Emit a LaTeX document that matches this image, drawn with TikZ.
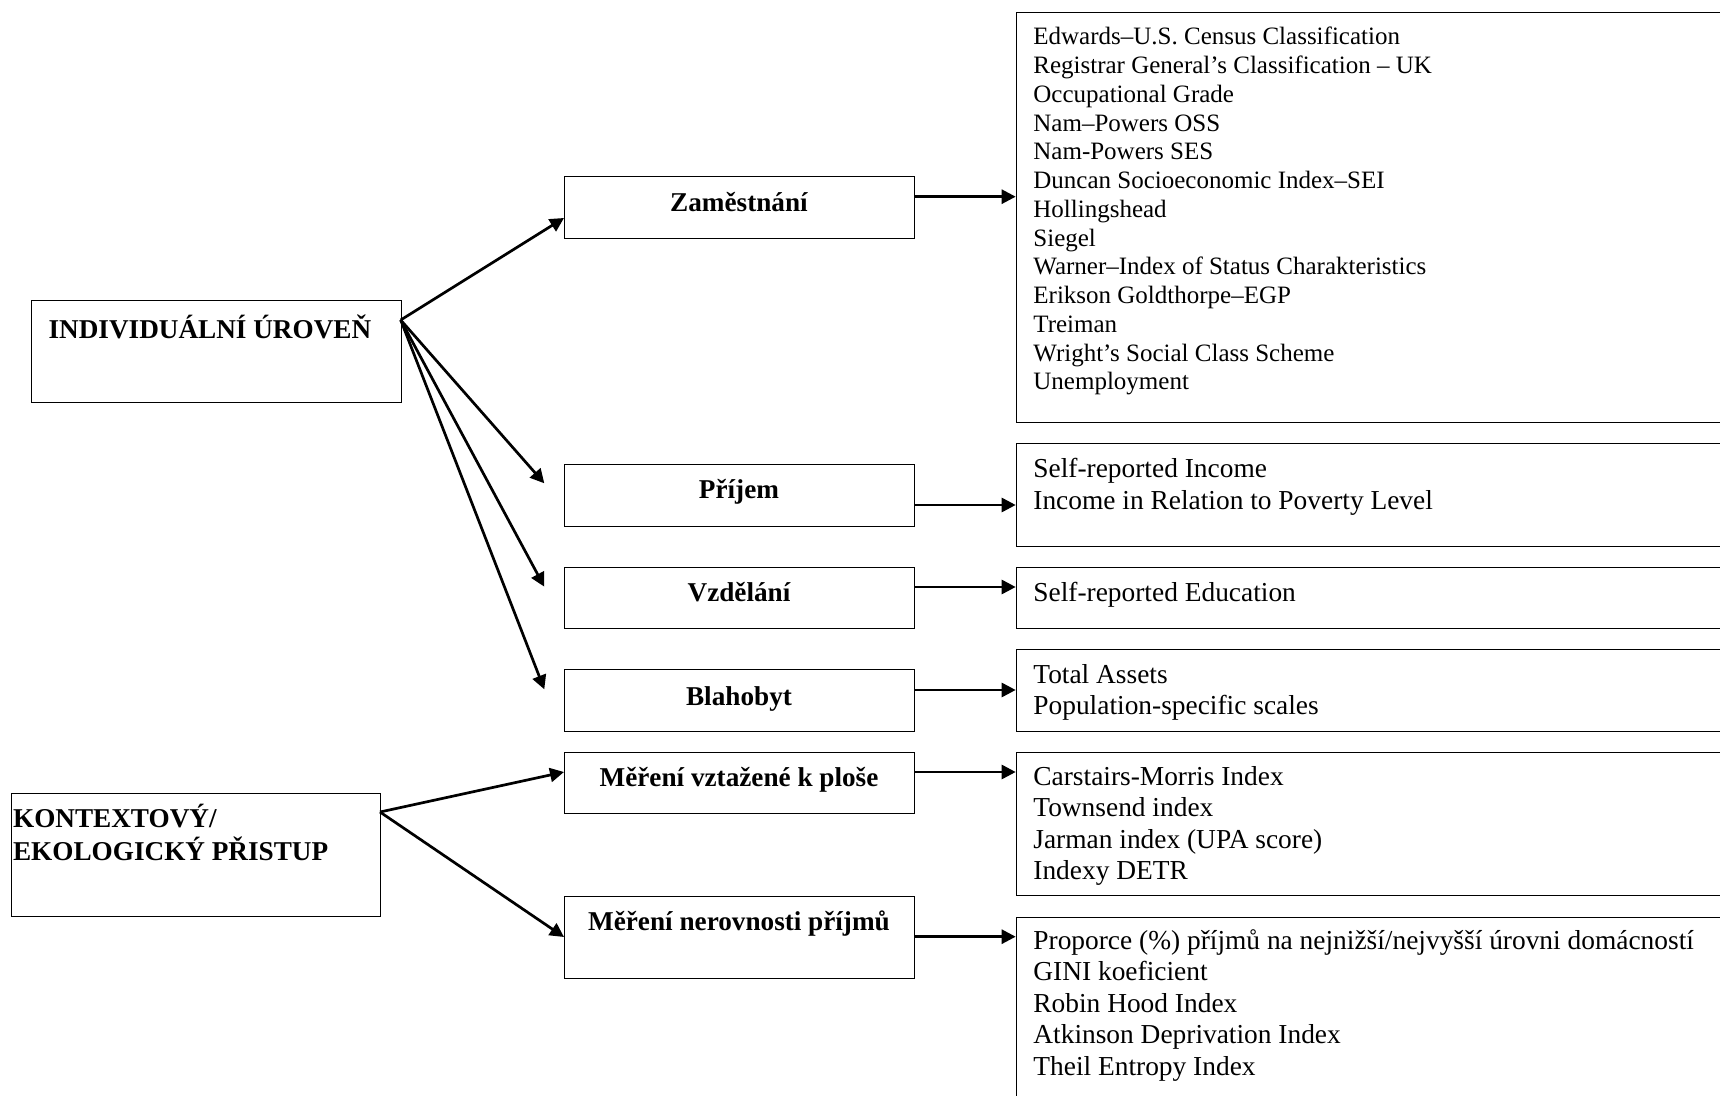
\documentclass[tikz,border=0pt]{standalone}
\usepackage{fontspec}
\setmainfont{Liberation Serif}
\usetikzlibrary{arrows.meta,calc}
\newcommand{\mylines}[1]{\begin{tabular}[t]{@{}l@{}}#1\end{tabular}}
\begin{document}
\begin{tikzpicture}[x=0.5pt,y=-0.5pt,
  box/.style={draw, line width=0.65pt, rectangle, inner sep=0pt, anchor=north west},
  midbox/.style={box, minimum width=175pt},
  rbox/.style={box, minimum width=380pt},
  lbl/.style={anchor=base, inner sep=0pt, font=\fontsize{13.6}{16}\selectfont\bfseries},
  blbl/.style={anchor=base west, inner sep=0pt, font=\fontsize{13.6}{16}\selectfont\bfseries},
  lst/.style={anchor=base west, inner sep=0pt, font=\fontsize{13.7}{15.75}\selectfont},
  lstA/.style={anchor=base west, inner sep=0pt, font=\fontsize{12.5}{14.375}\selectfont},
  arr/.style={line width=1.35pt, -{Triangle[length=7pt,width=7pt]}}
]
\useasboundingbox (0,0) rectangle (1720,1096);
\clip (0,0) rectangle (1720,1096);

% left boxes
\node[box, minimum width=185pt, minimum height=51pt] (ind) at (31,300) {};
\node[blbl] (indt) at (48.2,339) {INDIVIDUÁLNÍ ÚROVEŇ};
\node[box, minimum width=184.6pt, minimum height=61.6pt] (kon) at (10.7,792.7) {};
\node[blbl] (kont) at (12.7,827) {\mylines{KONTEXTOVÝ/\\EKOLOGICKÝ PŘISTUP}};

% middle boxes
\node[midbox, minimum height=31pt] (zam) at (564,176) {};
\node[lbl] (zamt) at (739,212) {Zaměstnání};
\node[midbox, minimum height=31pt] (pri) at (564,464) {};
\node[lbl] (prit) at (739,499) {Příjem};
\node[midbox, minimum height=30.6pt] (vzd) at (564,566.7) {};
\node[lbl] (vzdt) at (739,601.7) {Vzdělání};
\node[midbox, minimum height=31pt] (bla) at (564,669) {};
\node[lbl] (blat) at (739,705) {Blahobyt};
\node[midbox, minimum height=30.5pt] (mvp) at (564,752) {};
\node[lbl] (mvpt) at (739,786.7) {Měření vztažené k ploše};
\node[midbox, minimum height=41.2pt] (mnp) at (564,895.7) {};
\node[lbl] (mnpt) at (739,930.7) {Měření nerovnosti příjmů};

% right boxes
\node[rbox, minimum height=205pt] (r1) at (1015.7,11.7) {};
\node[lstA] (r1t) at (1033,45) {\mylines{Edwards–U.S. Census Classification\\
Registrar General’s Classification – UK\\
Occupational Grade\\
Nam–Powers OSS\\
Nam-Powers SES\\
Duncan Socioeconomic Index–SEI\\
Hollingshead\\
Siegel\\
Warner–Index of Status Charakteristics\\
Erikson Goldthorpe–EGP\\
Treiman\\
Wright’s Social Class Scheme\\
Unemployment}};
\node[rbox, minimum height=51.5pt] (r2) at (1015.7,443) {};
\node[lst] (r2t) at (1033,478) {\mylines{Self-reported Income\\Income in Relation to Poverty Level}};
\node[rbox, minimum height=30.6pt] (r3) at (1015.7,566.7) {};
\node[lst] (r3t) at (1033,601.5) {Self-reported Education};
\node[rbox, minimum height=41pt] (r4) at (1015.7,649) {};
\node[lst] (r4t) at (1033,683) {\mylines{Total Assets\\Population-specific scales}};
\node[rbox, minimum height=71.5pt] (r5) at (1015.7,752) {};
\node[lst] (r5t) at (1033,785) {\mylines{Carstairs-Morris Index\\Townsend index\\Jarman index (UPA score)\\Indexy DETR}};
\node[rbox, minimum height=100pt] (r6) at (1015.7,916.7) {};
\node[lst] (r6t) at (1033,949) {\mylines{Proporce (\%) příjmů na nejnižší/nejvyšší úrovni domácností\\GINI koeficient\\Robin Hood Index\\Atkinson Deprivation Index\\Theil Entropy Index}};

% connector end points
\coordinate (indo) at (400.7,320);
\coordinate (zamin) at (564,218);
\coordinate (p1) at (544.3,483.3);
\coordinate (p2) at (544.3,586.7);
\coordinate (p3) at (544.3,689.3);
\coordinate (kono) at (380,812);
\coordinate (mvpin) at (564,772);
\coordinate (mnpin) at (564,937);
\coordinate (y1) at (0,196.7);
\coordinate (y2) at (0,505);
\coordinate (y3) at (0,587);
\coordinate (y4) at (0,690);
\coordinate (y5) at (0,772);
\coordinate (y6) at (0,936.7);

% connectors
\draw[arr] (indo) -- (zamin);
\draw[arr] (indo) -- (p1);
\draw[arr] (indo) -- (p2);
\draw[arr] (indo) -- (p3);
\draw[arr] (kono) -- (mvpin);
\draw[arr] (kono) -- (mnpin);
\draw[arr] (zam.east |- y1) -- (r1.west |- y1);
\draw[arr] (pri.east |- y2) -- (r2.west |- y2);
\draw[arr] (vzd.east |- y3) -- (r3.west |- y3);
\draw[arr] (bla.east |- y4) -- (r4.west |- y4);
\draw[arr] (mvp.east |- y5) -- (r5.west |- y5);
\draw[arr] (mnp.east |- y6) -- (r6.west |- y6);
\end{tikzpicture}
\end{document}
